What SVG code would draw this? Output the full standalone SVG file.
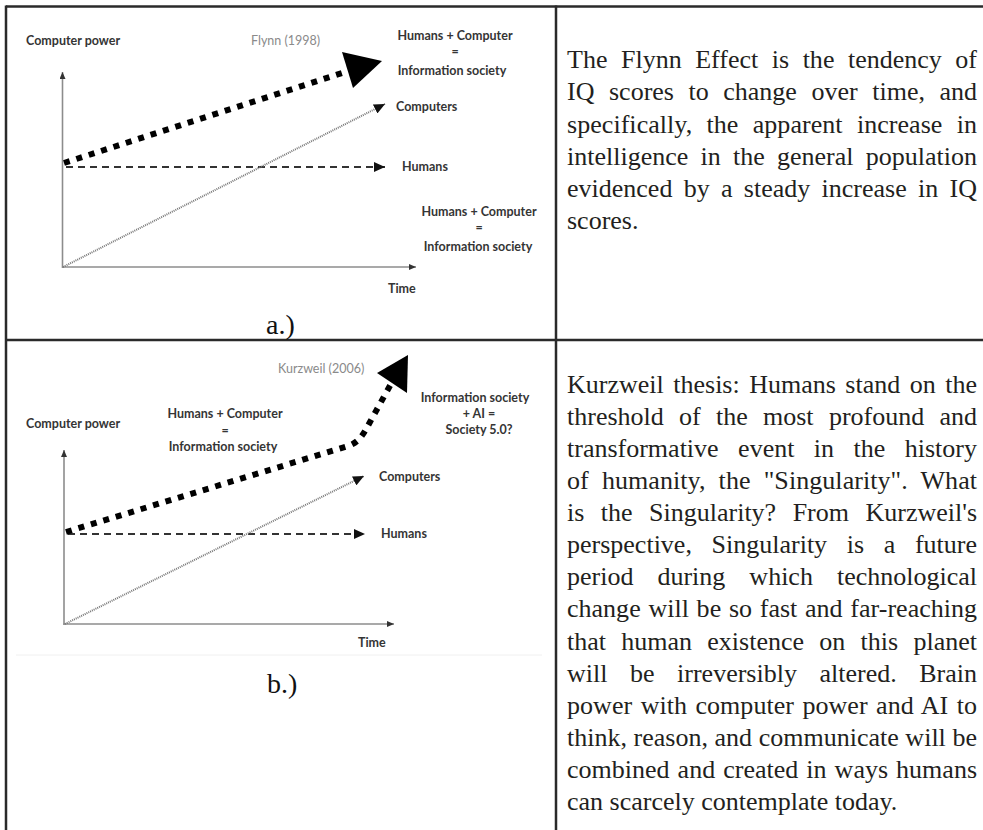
<svg xmlns="http://www.w3.org/2000/svg" width="983" height="830" viewBox="0 0 983 830">
<style>
.lbl{font-family:Lato,"Open Sans","Liberation Sans",sans-serif;font-weight:bold;font-size:12.5px;fill:#353535}
.src{font-family:Lato,"Open Sans","Liberation Sans",sans-serif;font-size:12.5px;fill:#8a8a8a}
.cap{font-family:"Liberation Serif","Times New Roman",serif;font-size:28px;fill:#111}
.para{font-family:"Liberation Serif","Times New Roman",serif;font-size:26px;fill:#231f20}
.rule{stroke:#2a2a2a;stroke-width:2.5;fill:none}
.axis{stroke:#8c8c8c;stroke-width:1.6;fill:none}
.hum{stroke:#333;stroke-width:2;stroke-dasharray:7 5;fill:none}
.comp{stroke:#777;stroke-width:2;stroke-dasharray:1 1;fill:none}
.thick{stroke:#000;stroke-width:6;stroke-dasharray:6 7;fill:none}
</style>
<defs>
<marker id="ax" markerUnits="userSpaceOnUse" markerWidth="7" markerHeight="6" refX="7" refY="3" orient="auto"><path d="M0,0 L7,3 L0,6 z" fill="#333"/></marker>
<marker id="ah" markerUnits="userSpaceOnUse" markerWidth="11" markerHeight="10" refX="11" refY="5" orient="auto"><path d="M0,0 L11,5 L0,10 z" fill="#111"/></marker>
</defs>
<rect width="983" height="830" fill="#fff"/>
<g id="table">
<line class="rule" x1="6" y1="6.5" x2="983" y2="6.5"/>
<line class="rule" x1="6" y1="340" x2="983" y2="340"/>
<line class="rule" x1="6" y1="5.5" x2="6" y2="830"/>
<line class="rule" x1="556" y1="5.5" x2="556" y2="830"/>
</g>
<g id="connectors">
<line class="axis" x1="62.5" y1="268" x2="62.5" y2="72" marker-end="url(#ax)"/>
<line class="axis" x1="62" y1="267" x2="416" y2="267" marker-end="url(#ax)"/>
<line class="hum" x1="66" y1="167" x2="385" y2="167" marker-end="url(#ah)"/>
<line class="comp" x1="63" y1="267" x2="385" y2="104" marker-end="url(#ah)"/>
<line class="thick" x1="64" y1="163" x2="342" y2="73"/>
<polygon points="342,52 382,61 353,88" fill="#000"/>
<line class="axis" x1="64" y1="625" x2="64" y2="450" marker-end="url(#ax)"/>
<line class="axis" x1="63.5" y1="624" x2="394" y2="624" marker-end="url(#ax)"/>
<line class="hum" x1="68" y1="534" x2="365" y2="534" marker-end="url(#ah)"/>
<line class="comp" x1="65" y1="624" x2="364" y2="476" marker-end="url(#ah)"/>
<path class="thick" d="M66,532 L348,446 C360,442 364,433 370,422 L392,382"/>
<polygon points="408,355 377,373 407,393" fill="#000"/>
<line x1="16" y1="655" x2="542" y2="655" stroke="#f0f0f0" stroke-width="1"/>
</g>
<g id="chart-a">
<text class="lbl" x="26" y="44.5">Computer power</text>
<text class="src" x="251" y="44.5">Flynn (1998)</text>
<text class="lbl" x="455" y="39.5" text-anchor="middle">Humans + Computer</text>
<text class="lbl" x="455" y="56" text-anchor="middle">=</text>
<text class="lbl" x="452" y="75" text-anchor="middle">Information society</text>
<text class="lbl" x="396" y="111">Computers</text>
<text class="lbl" x="402" y="171">Humans</text>
<text class="lbl" x="479" y="215.5" text-anchor="middle">Humans + Computer</text>
<text class="lbl" x="479" y="232" text-anchor="middle">=</text>
<text class="lbl" x="478" y="250.5" text-anchor="middle">Information society</text>
<text class="lbl" x="388" y="293">Time</text>
<text class="cap" x="266" y="334">a.)</text>
</g>
<g id="chart-b">
<text class="src" x="278" y="373">Kurzweil (2006)</text>
<text class="lbl" x="26" y="428">Computer power</text>
<text class="lbl" x="225" y="418" text-anchor="middle">Humans + Computer</text>
<text class="lbl" x="225" y="435" text-anchor="middle">=</text>
<text class="lbl" x="223" y="451" text-anchor="middle">Information society</text>
<text class="lbl" x="475" y="402" text-anchor="middle">Information society</text>
<text class="lbl" x="479" y="417.5" text-anchor="middle">+ AI =</text>
<text class="lbl" x="479" y="434" text-anchor="middle">Society 5.0?</text>
<text class="lbl" x="379" y="481">Computers</text>
<text class="lbl" x="381" y="538">Humans</text>
<text class="lbl" x="358" y="647">Time</text>
<text class="cap" x="267" y="693">b.)</text>
</g>
<g id="text-a" class="para">
<text x="567" y="68.3" textLength="410" lengthAdjust="spacing" style="word-spacing:6.96px">The Flynn Effect is the tendency of</text>
<text x="567" y="100.4" textLength="410" lengthAdjust="spacing" style="word-spacing:8.04px">IQ scores to change over time, and</text>
<text x="567" y="132.5" textLength="410" lengthAdjust="spacing" style="word-spacing:7.74px">specifically, the apparent increase in</text>
<text x="567" y="164.6" textLength="410" lengthAdjust="spacing" style="word-spacing:5.74px">intelligence in the general population</text>
<text x="567" y="196.7" textLength="410" lengthAdjust="spacing" style="word-spacing:4.8px">evidenced by a steady increase in IQ</text>
<text x="567" y="228.8">scores.</text>
</g>
<g id="text-b" class="para">
<text x="567" y="392.7" textLength="410" lengthAdjust="spacing" style="word-spacing:3px">Kurzweil thesis: Humans stand on the</text>
<text x="567" y="424.8" textLength="410" lengthAdjust="spacing" style="word-spacing:8.77px">threshold of the most profound and</text>
<text x="567" y="456.9" textLength="410" lengthAdjust="spacing" style="word-spacing:12.96px">transformative event in the history</text>
<text x="567" y="489" textLength="410" lengthAdjust="spacing" style="word-spacing:6.56px">of humanity, the "Singularity". What</text>
<text x="567" y="521.1" textLength="410" lengthAdjust="spacing" style="word-spacing:9.97px">is the Singularity? From Kurzweil's</text>
<text x="567" y="553.2" textLength="410" lengthAdjust="spacing" style="word-spacing:13.14px">perspective, Singularity is a future</text>
<text x="567" y="585.3" textLength="410" lengthAdjust="spacing" style="word-spacing:17.52px">period during which technological</text>
<text x="567" y="617.4" textLength="410" lengthAdjust="spacing" style="word-spacing:1.19px">change will be so fast and far-reaching</text>
<text x="567" y="649.5" textLength="410" lengthAdjust="spacing" style="word-spacing:8.77px">that human existence on this planet</text>
<text x="567" y="681.6" textLength="410" lengthAdjust="spacing" style="word-spacing:16.03px">will be irreversibly altered. Brain</text>
<text x="567" y="713.7" textLength="410" lengthAdjust="spacing" style="word-spacing:1.9px">power with computer power and AI to</text>
<text x="567" y="745.8" textLength="410" lengthAdjust="spacing" style="word-spacing:0.11px">think, reason, and communicate will be</text>
<text x="567" y="777.9" textLength="410" lengthAdjust="spacing" style="word-spacing:1.56px">combined and created in ways humans</text>
<text x="567" y="810">can scarcely contemplate today.</text>
</g>
</svg>
